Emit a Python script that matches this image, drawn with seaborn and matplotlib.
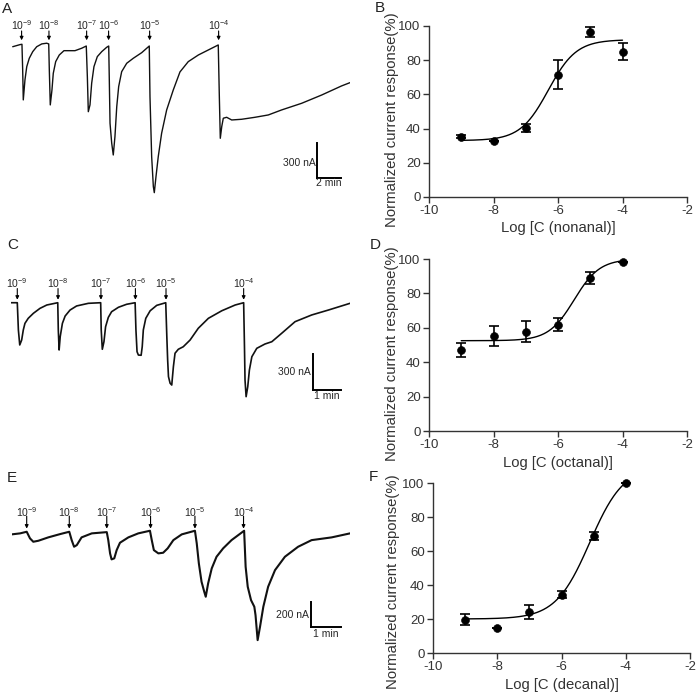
import numpy as np
import pandas as pd
import matplotlib
matplotlib.use("Agg")
import matplotlib.pyplot as plt
import seaborn as sns

sns.set_style("ticks")
plt.rcParams['font.family'] = ['Liberation Sans', 'DejaVu Sans']
plt.rcParams['mathtext.fontset'] = 'custom'
plt.rcParams['mathtext.rm'] = 'Liberation Sans'
plt.rcParams['mathtext.it'] = 'Liberation Sans:italic'
plt.rcParams['axes.unicode_minus'] = False

# ---------------- trace data (time in min, current in nA) ----------------
A_time = [0.06, 0.67, 0.83, 0.89, 0.94, 1.08, 1.23, 1.44, 1.73, 2.06, 2.48, 2.89,
          3.06, 3.11, 3.19, 3.33, 3.44, 3.64, 3.94, 4.33, 4.69, 5.25, 5.81,
          6.19, 6.28, 6.36, 6.50, 6.64, 6.83, 7.11, 7.48, 7.89,
          8.06, 8.11, 8.17, 8.31, 8.44, 8.58, 8.73, 8.89, 9.14, 9.56, 10.11, 10.81,
          11.44, 11.50, 11.64, 11.78, 11.86, 12.00, 12.19, 12.47, 12.89, 13.44, 14.00,
          14.69, 15.53, 16.36, 17.19, 17.28, 17.36, 17.48, 17.61, 17.89, 18.31, 19.14,
          20.25, 21.36, 22.47, 24.14, 25.81, 27.47, 28.17]
A_current = [-15, 3, 6, -214, -471, -300, -186, -114, -57, -15, 9, 15,
             9, -214, -514, -386, -243, -143, -86, -49, -49, -49, -28,
             -9, -272, -572, -514, -328, -186, -100, -57, -20,
             -9, -300, -671, -842, -943, -786, -529, -357, -229, -157, -114, -66,
             -9, -443, -957, -1214, -1266, -1129, -957, -757, -557, -386, -231,
             -143, -86, -43, 0, -443, -800, -700, -628, -620, -643, -637,
             -620, -600, -557, -500, -429, -351, -323]
A_onsets = [0.80, 3.08, 6.22, 8.05, 11.47, 17.22]

C_time = [0, 0.23, 0.27, 0.32, 0.39, 0.45, 0.51, 0.63, 0.82, 1.06, 1.31,
          1.71, 1.73, 1.76, 1.80, 1.88, 1.98, 2.16, 2.40, 2.83,
          3.28, 3.30, 3.34, 3.40, 3.46, 3.56, 3.68, 3.93, 4.23,
          4.54, 4.57, 4.61, 4.66, 4.76, 4.80, 4.84, 4.93, 5.09, 5.33,
          5.66, 5.70, 5.73, 5.76, 5.82, 5.88, 5.94, 6.00, 6.12, 6.30, 6.55, 6.85, 7.22, 7.71, 8.20,
          8.51, 8.54, 8.56, 8.60, 8.66, 8.72, 8.81, 8.99, 9.29, 9.54, 9.90, 10.39, 11.00,
          11.61, 12.40]
C_current = [0, 0, -227, -352, -311, -227, -172, -130, -88, -47, -19,
             0, -227, -394, -283, -172, -111, -61, -27, -5,
             0, -227, -388, -325, -200, -122, -75, -38, -13,
             0, -227, -408, -436, -438, -367, -227, -130, -67, -22,
             0, -283, -477, -616, -671, -686, -533, -421, -388, -367, -311, -213, -130, -67, -19,
             0, -367, -644, -783, -700, -561, -450, -380, -344, -325, -255, -158, -102,
             -61, -5]
C_onsets = [0.23, 1.72, 3.29, 4.55, 5.67, 8.51]

E_time = [0, 0.28, 0.50, 0.61, 0.72, 0.89, 1.22, 1.61,
          1.92, 2.00, 2.08, 2.17, 2.33, 2.67,
          3.17, 3.22, 3.28, 3.33, 3.42, 3.50, 3.61, 3.89, 4.22,
          4.61, 4.67, 4.74, 4.89, 5.05, 5.20, 5.39, 5.67,
          6.11, 6.17, 6.24, 6.33, 6.42, 6.47, 6.55, 6.67, 6.83, 7.05, 7.33,
          7.75, 7.80, 7.87, 7.98, 8.09, 8.13, 8.20, 8.28, 8.39, 8.55, 8.78, 9.11, 9.55,
          10.00, 10.67, 11.28]
E_current = [-8, 0, 13, -40, -67, -59, -32, -6,
             13, -54, -107, -94, -32, 0,
             10, -54, -160, -208, -200, -134, -75, -32, 0,
             21, -54, -134, -160, -155, -120, -54, -8,
             21, -80, -240, -387, -467, -507, -400, -280, -187, -120, -54,
             21, -267, -427, -534, -587, -654, -854, -747, -587, -427, -294, -187, -107,
             -54, -32, 0]
E_onsets = [0.50, 1.92, 3.17, 4.63, 6.11, 7.73]

dose_labels = ["10$^{-9}$", "10$^{-8}$", "10$^{-7}$", "10$^{-6}$", "10$^{-5}$", "10$^{-4}$"]

# ---------------- dose-response data ----------------
log_conc = [-9, -8, -7, -6, -5, -4]
B_mean = [35.3, 33.0, 40.5, 71.5, 96.5, 85.0]
B_err = [1.0, 0.0, 2.2, 8.5, 2.9, 5.0]
D_mean = [47.1, 55.3, 57.8, 61.7, 89.1, 98.1]
D_err = [3.9, 5.6, 6.3, 3.8, 3.4, 0.0]
F_mean = [19.5, 14.5, 24.2, 34.2, 68.9, 100.0]
F_err = [3.3, 0.0, 4.3, 2.0, 2.5, 0.0]
# fitted 4-parameter logistic: bottom, top, logEC50, hill slope
B_fit = [33.0, 92.0, -6.3, 1.0]
D_fit = [52.5, 100.0, -5.5, 1.1]
F_fit = [20.0, 110.0, -5.12, 0.82]

xlabels = ["Log [C (nonanal)]", "Log [C (octanal)]", "Log [C (decanal)]"]
ylabel = "Normalized current response(%)"

W, H = 697, 695
fig = plt.figure(figsize=(W / 100, H / 100), dpi=100)


def rect(l, r, t, b):
    return [l / W, (H - b) / H, (r - l) / W, (b - t) / H]


def trace_panel(rc, t, cur, onsets, xlim, ylim, lab_y, arr_tail, arr_tip, lw,
                sb_t, sb_top, sb_bot, sb_len, sb_text, sb_tx, sb_ty, tm_text, tm_ty):
    ax = fig.add_axes(rc)
    df = pd.DataFrame({"t": t, "I": cur})
    sns.lineplot(data=df, x="t", y="I", ax=ax, color="#111111", lw=lw, estimator=None, sort=False)
    ax.set_xlim(*xlim)
    ax.set_ylim(*ylim)
    ax.axis("off")
    for o, lab in zip(onsets, dose_labels):
        ax.annotate("", xy=(o, arr_tip), xytext=(o, arr_tail),
                    arrowprops=dict(arrowstyle="-|>", lw=0.8, color="black", mutation_scale=5,
                                    shrinkA=0, shrinkB=0))
        ax.text(o, lab_y, lab, ha="center", va="center", fontsize=7.5)
    ax.plot([sb_t, sb_t], [sb_top, sb_bot], color="black", lw=1.4, solid_capstyle="projecting")
    ax.plot([sb_t, sb_t + sb_len], [sb_bot, sb_bot], color="black", lw=1.4, solid_capstyle="projecting")
    ax.text(sb_tx, sb_ty, sb_text, ha="right", va="center", fontsize=7.5)
    ax.text(sb_t + sb_len / 2, tm_ty, tm_text, ha="center", va="center", fontsize=7.5)
    return ax


# A
trace_panel(rect(12, 350, 20, 200), A_time, A_current, A_onsets, (0, 28.17), (-1329, 214),
            171, 120, 40, 1.0, 25.42, -840, -1140, 2, "300 nA", 25.3, -1011, "2 min", -1185)
# C
trace_panel(rect(11, 350, 260, 410), C_time, C_current, C_onsets, (0, 12.40), (-894, 356),
            160, 118, 25, 1.2, 11.06, -427, -727, 1, "300 nA", 10.98, -575, "1 min", -780)
# E
trace_panel(rect(11.7, 350, 500, 660), E_time, E_current, E_onsets, (0, 11.28), (-1013, 267),
            168, 138, 38, 1.5, 9.97, -547, -747, 1, "200 nA", 9.90, -653, "1 min", -805)


def dose_panel(rc, mean, err, fit, xlabel, ylab_x, ylab_y):
    ax = fig.add_axes(rc)
    ax.errorbar(log_conc, mean, yerr=err, fmt="none", ecolor="black", elinewidth=1.2,
                capsize=3.5, capthick=1.2, clip_on=False, zorder=3)
    sns.scatterplot(x=log_conc, y=mean, ax=ax, color="black", s=32, edgecolor="black",
                    zorder=4, clip_on=False)
    xs = np.linspace(log_conc[0], log_conc[-1], 200)
    bottom, top, ec50, hill = fit
    ys = bottom + (top - bottom) / (1 + 10 ** ((ec50 - xs) * hill))
    sns.lineplot(x=xs, y=ys, ax=ax, color="black", lw=1.0, clip_on=False)
    ax.set_xlim(-10, -2)
    ax.set_ylim(0, 100)
    ax.set_xticks([-10, -8, -6, -4, -2])
    ax.set_yticks([0, 20, 40, 60, 80, 100])
    sns.despine(ax=ax)
    for s in ["left", "bottom"]:
        ax.spines[s].set_linewidth(1.0)
        ax.spines[s].set_color("#333333")
    ax.tick_params(direction="out", length=4, width=1.0, labelsize=9.5, colors="#333333",
                   labelcolor="#333333", pad=2)
    ax.set_xlabel(xlabel, fontsize=10.7, color="#333333", labelpad=3)
    ax.set_ylabel(ylabel, fontsize=10.7, color="#333333")
    ax.yaxis.set_label_coords(ylab_x, ylab_y)
    return ax


dose_panel(rect(429, 687, 26, 197), B_mean, B_err, B_fit, xlabels[0], -0.118, 0.45)
dose_panel(rect(429, 687, 259, 431), D_mean, D_err, D_fit, xlabels[1], -0.118, 0.45)
dose_panel(rect(433, 690, 483, 653), F_mean, F_err, F_fit, xlabels[2], -0.128, 0.42)

for lab, x, y in [("A", 7, 9), ("C", 13, 245), ("E", 12, 478),
                  ("B", 380, 8), ("D", 375, 245), ("F", 373, 477)]:
    fig.text(x / W, 1 - y / H, lab, ha="center", va="center", fontsize=11, color="#222222")

fig.savefig("out.png", dpi=100)
